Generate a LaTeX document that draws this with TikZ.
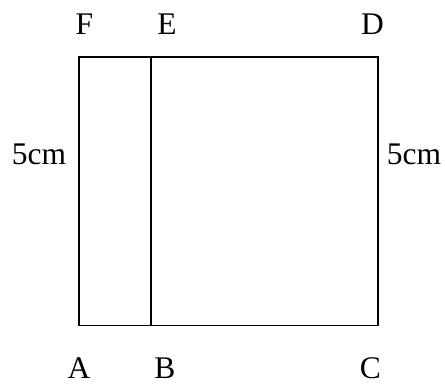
\documentclass[tikz,border=0pt]{standalone}
\usepackage{fontspec}
\setmainfont{Liberation Serif}
\begin{document}
\begin{tikzpicture}[x=1pt,y=-1pt,
  lbl/.style={font=\fontsize{31.5}{31.5}\selectfont, inner sep=0pt, anchor=base},
  edge/.style={line width=1.8pt, line join=miter}]
\useasboundingbox (0,0) rectangle (445,385);
\coordinate (pA) at (79,325.5);
\coordinate (pB) at (151,325.5);
\coordinate (pC) at (378,325.5);
\coordinate (pD) at (378,57);
\coordinate (pE) at (151,57);
\coordinate (pF) at (79,57);
\draw[edge] (pA) -- (pC) -- (pD) -- (pF) -- cycle;
\draw[edge] (pB) -- (pE);
\node[lbl] (F) at (84.5,34.3) {F};
\node[lbl] (E) at (167,34.3) {E};
\node[lbl] (D) at (372.5,34.3) {D};
\node[lbl] (A) at (79,378.5) {A};
\node[lbl] (B) at (165,378.5) {B};
\node[lbl] (C) at (370.5,378.5) {C};
\node[lbl] (L) at (39,164.3) {5cm};
\node[lbl] (R) at (414,164.3) {5cm};
\end{tikzpicture}
\end{document}
